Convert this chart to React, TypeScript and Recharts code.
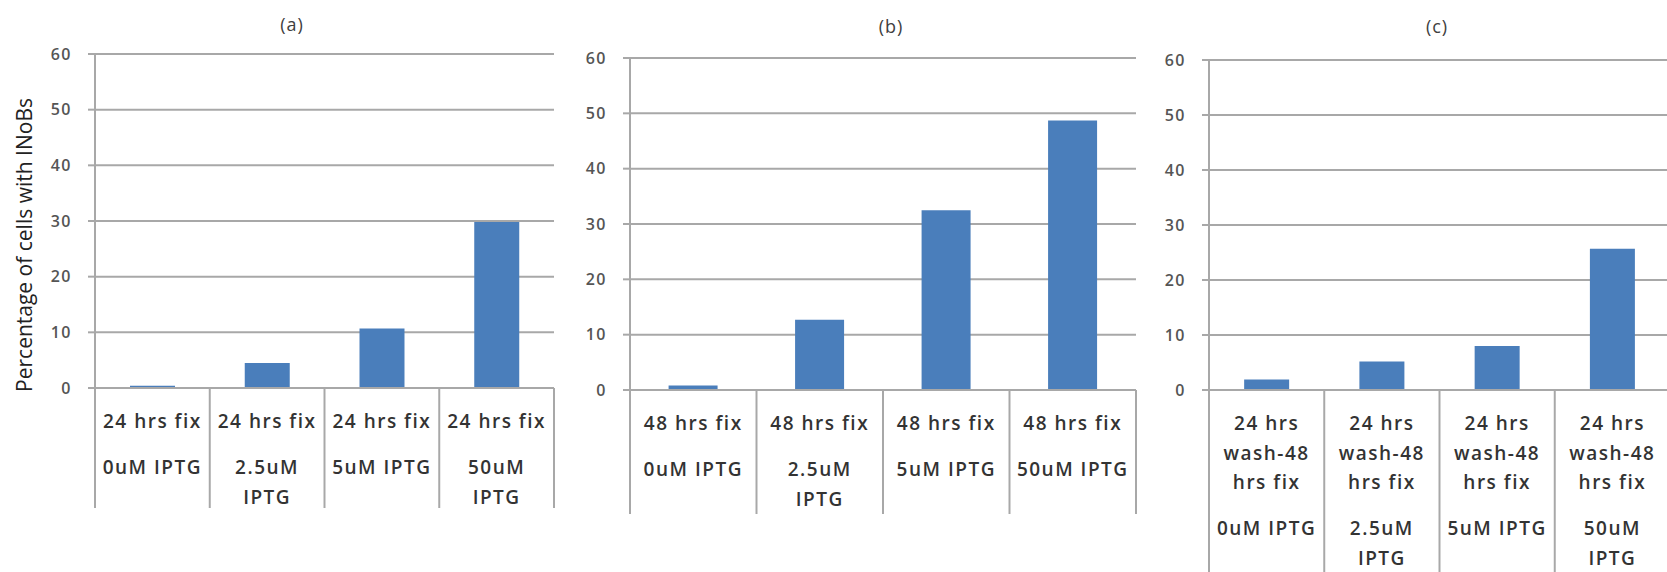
import React from "react";
import { BarChart, Bar, XAxis, YAxis, CartesianGrid } from "recharts";

const FONT = "'Open Sans', 'Liberation Sans', sans-serif";
const BAR = "#4a7ebb";
const GRID = "#a8a8a8";
const TEXT = "#333333";

const yTicks = [0, 10, 20, 30, 40, 50, 60];
const yTitle = "Percentage of cells with INoBs";

// panel (a): 24 hrs fix
const timesA = ["24 hrs fix", "24 hrs fix", "24 hrs fix", "24 hrs fix"];
const dosesA = ["0uM IPTG", "2.5uM\nIPTG", "5uM IPTG", "50uM\nIPTG"];
const valuesA = [0.4, 4.5, 10.7, 29.8];

// panel (b): 48 hrs fix
const timesB = ["48 hrs fix", "48 hrs fix", "48 hrs fix", "48 hrs fix"];
const dosesB = ["0uM IPTG", "2.5uM\nIPTG", "5uM IPTG", "50uM IPTG"];
const valuesB = [0.8, 12.7, 32.5, 48.7];

// panel (c): 24 hrs wash, 48 hrs fix
const timesC = [
  "24 hrs\nwash-48\nhrs fix",
  "24 hrs\nwash-48\nhrs fix",
  "24 hrs\nwash-48\nhrs fix",
  "24 hrs\nwash-48\nhrs fix",
];
const dosesC = ["0uM IPTG", "2.5uM\nIPTG", "5uM IPTG", "50uM\nIPTG"];
const valuesC = [1.9, 5.2, 8.0, 25.7];

function CategoryTick(props: any) {
  const { x = 0, y = 0, payload, index = 0, times, doses, drop } = props;
  const half = payload && payload.offset ? payload.offset : 57;
  const timeLines: string[] = times[index].split("\n");
  const doseLines: string[] = doses[index].split("\n");
  const step = 29.5;
  const first = y + 33;
  const doseStart = first + (timeLines.length - 1) * step + 46;
  const last = index === doses.length - 1;
  const textStyle = {
    fontFamily: FONT,
    fontSize: 19,
    fontWeight: 600,
    letterSpacing: 1.5,
  };
  return (
    <g>
      <line x1={x - half} x2={x - half} y1={y} y2={y + drop} stroke={GRID} strokeWidth={2} />
      {last && (
        <line x1={x + half} x2={x + half} y1={y} y2={y + drop} stroke={GRID} strokeWidth={2} />
      )}
      <text textAnchor="middle" dominantBaseline="central" fill={TEXT} style={textStyle}>
        {timeLines.map((t, i) => (
          <tspan key={"t" + i} x={x} y={first + i * step}>
            {t}
          </tspan>
        ))}
        {doseLines.map((t, i) => (
          <tspan key={"d" + i} x={x} y={doseStart + i * step}>
            {t}
          </tspan>
        ))}
      </text>
    </g>
  );
}

function AxisTitle() {
  return (
    <text
      x={24}
      y={245}
      transform="rotate(-90 24 245)"
      textAnchor="middle"
      dominantBaseline="central"
      fill="#222"
      style={{ fontFamily: FONT, fontSize: 21 }}
    >
      {yTitle}
    </text>
  );
}

interface PanelProps {
  left: number;
  width: number;
  top: number;
  axisHeight: number;
  yAxisWidth: number;
  drop: number;
  times: string[];
  doses: string[];
  values: number[];
  withTitle?: boolean;
}

function Panel({ left, width, top, axisHeight, yAxisWidth, drop, times, doses, values, withTitle }: PanelProps) {
  const data = doses.map((d, i) => ({ name: d, value: values[i] }));
  return (
    <div style={{ position: "absolute", left, top: 0 }}>
      <BarChart
        width={width}
        height={572}
        data={data}
        margin={{ top, right: 4, bottom: 0, left: 0 }}
        barCategoryGap="30.5%"
      >
        <CartesianGrid vertical={false} stroke={GRID} strokeWidth={2} />
        <XAxis
          dataKey="name"
          height={axisHeight}
          interval={0}
          tickSize={0}
          tickMargin={0}
          tickLine={false}
          axisLine={{ stroke: GRID, strokeWidth: 2 }}
          tick={<CategoryTick times={times} doses={doses} drop={drop} />}
        />
        <YAxis
          width={yAxisWidth}
          domain={[0, 60]}
          ticks={yTicks}
          interval={0}
          tickSize={7}
          tickMargin={16}
          axisLine={{ stroke: GRID, strokeWidth: 2 }}
          tickLine={{ stroke: GRID, strokeWidth: 2 }}
          tick={{ fill: "#555", fontSize: 16, fontWeight: 600, fontFamily: FONT, letterSpacing: 1.5 }}
          label={withTitle ? <AxisTitle /> : undefined}
        />
        <Bar dataKey="value" fill={BAR} isAnimationActive={false} />
      </BarChart>
    </div>
  );
}

const titleStyle = (cx: number, cy: number): React.CSSProperties => ({
  position: "absolute",
  left: cx - 30,
  top: cy - 12,
  width: 60,
  height: 24,
  lineHeight: "24px",
  textAlign: "center",
  fontFamily: FONT,
  fontSize: 18,
  letterSpacing: 1,
  color: "#404040",
});

export default function App() {
  return (
    <div
      style={{
        position: "absolute",
        left: 0,
        top: 0,
        width: 1667,
        height: 572,
        overflow: "hidden",
        background: "#fff",
      }}
    >
      <Panel
        left={0}
        width={558}
        top={54}
        axisHeight={184}
        yAxisWidth={95}
        drop={120}
        times={timesA}
        doses={dosesA}
        values={valuesA}
        withTitle
      />
      <Panel
        left={560}
        width={580}
        top={58}
        axisHeight={182}
        yAxisWidth={70}
        drop={124}
        times={timesB}
        doses={dosesB}
        values={valuesB}
      />
      <Panel
        left={1140}
        width={534}
        top={60}
        axisHeight={182}
        yAxisWidth={69}
        drop={200}
        times={timesC}
        doses={dosesC}
        values={valuesC}
      />
      <div style={titleStyle(292, 24)}>(a)</div>
      <div style={titleStyle(891, 26)}>(b)</div>
      <div style={titleStyle(1437, 26)}>(c)</div>
    </div>
  );
}
